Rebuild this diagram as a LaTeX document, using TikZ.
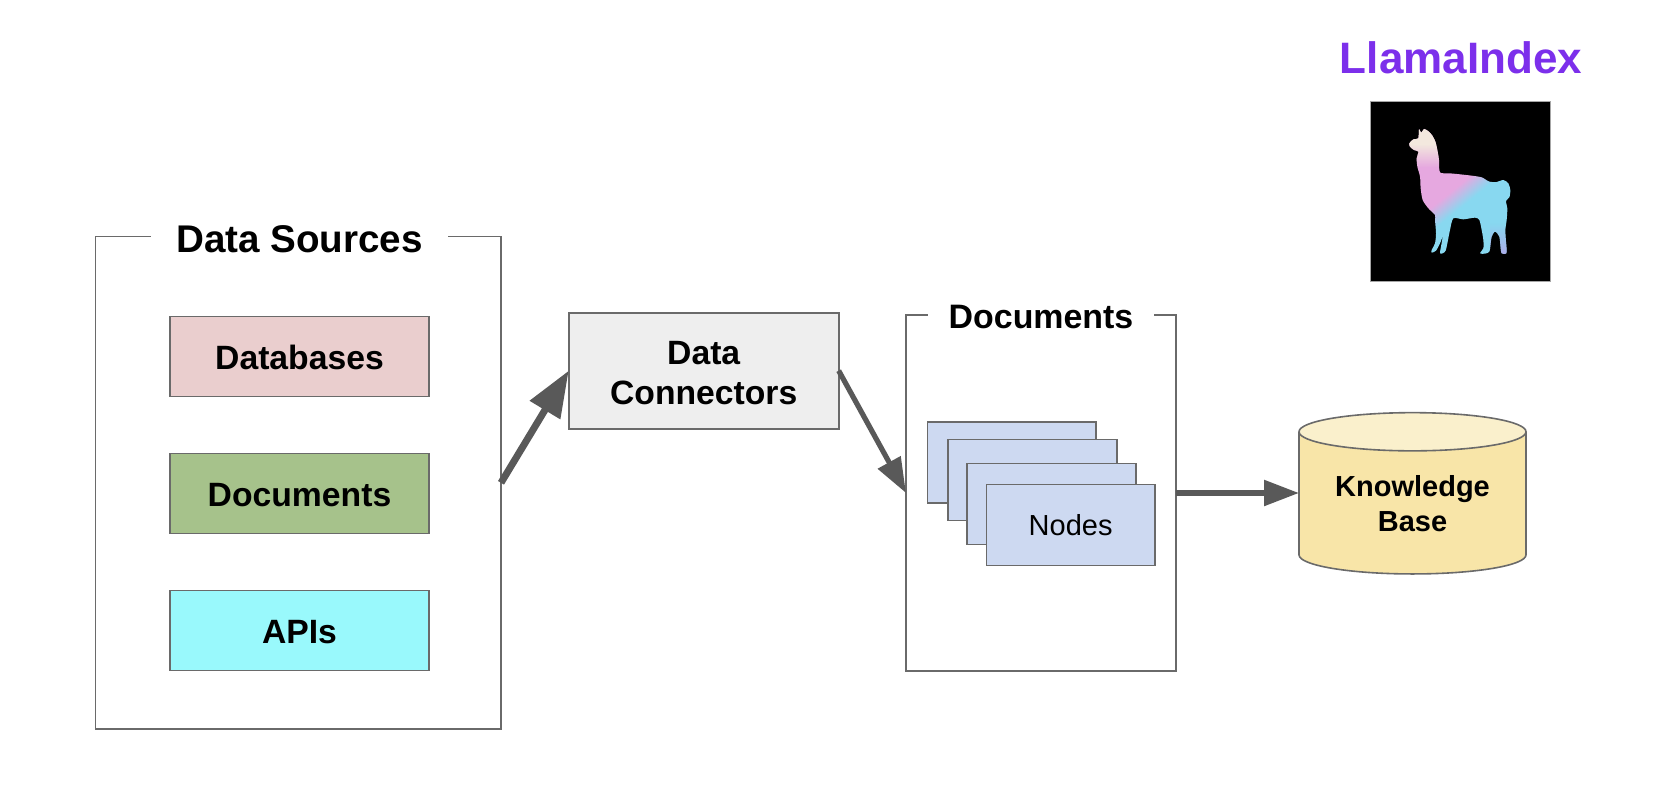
\documentclass[tikz,border=0pt]{standalone}
\usepackage{fontspec}
\setmainfont{Liberation Sans}
\usetikzlibrary{arrows.meta,shapes.geometric,fadings}
\definecolor{linegray}{HTML}{6A6A6A}
\definecolor{arrowgray}{HTML}{595959}
\definecolor{dbfill}{HTML}{EACECE}
\definecolor{docfill}{HTML}{A6C28B}
\definecolor{apifill}{HTML}{99F9FC}
\definecolor{connfill}{HTML}{EEEEEE}
\definecolor{nodefill}{HTML}{CDD9F1}
\definecolor{cylbody}{HTML}{F8E5A8}
\definecolor{cyltop}{HTML}{FAF0CC}
\definecolor{brandpurple}{HTML}{7C2FEB}
\definecolor{llcream}{HTML}{F3E8DE}
\definecolor{llpink}{HTML}{E6A8E0}
\definecolor{llblue}{HTML}{88D8F0}
\definecolor{llpurple}{HTML}{B8A0E8}
\pgfdeclarehorizontalshading{llamabody}{100bp}{color(0bp)=(llpink); color(48.5bp)=(llpink); color(54bp)=(llblue); color(100bp)=(llblue)}
\newcommand\dropstrut{\rule{0pt}{28pt}}
\newcommand\dropstrutone{\rule{0pt}{26.5pt}}
\tikzset{
  x=1pt,y=-1pt,
  basebox/.style={draw=linegray,line width=1.6pt,inner sep=0pt,outer sep=0pt,align=center},
  framebox/.style={basebox},
  itembox/.style={basebox,minimum width=259pt,minimum height=80pt,font=\fontsize{33.7}{40.3}\selectfont\bfseries},
  stackbox/.style={basebox,fill=nodefill,minimum width=168.6pt,minimum height=81pt,font=\fontsize{29}{35}\selectfont},
  frametitle/.style={fill=white,inner sep=0pt,outer sep=0pt,font=\fontsize{#1}{#1}\selectfont\bfseries},
  flow/.style={draw=arrowgray,-{Triangle[length=35pt,width=25pt]}},
}
\begin{document}
\begin{tikzpicture}
\useasboundingbox (0,0) rectangle (1664,800);
% Data sources frame
\node[framebox,minimum width=405.5pt,minimum height=492.4pt] (sources) at (298.25,482.8) {};
\node[frametitle=38.6,minimum width=297pt] (sourcestitle) at (299.5,239.5) {Data Sources};
\node[itembox,fill=dbfill] (databases) at (299.5,356.5) {\dropstrutone Databases};
\node[itembox,fill=docfill] (documents) at (299.5,493.5) {\dropstrutone Documents};
\node[itembox,fill=apifill] (apis) at (299.5,630.5) {\dropstrutone APIs};
% Data connectors
\node[basebox,fill=connfill,minimum width=270pt,minimum height=116pt,font=\fontsize{33.7}{40.3}\selectfont\bfseries] (connectors) at (703.7,370.7) {\dropstrut Data\\Connectors};
% Documents frame
\node[framebox,minimum width=270pt,minimum height=356pt] (docframe) at (1041,493) {};
\node[frametitle=33.9,minimum width=226pt] (docframetitle) at (1041,316.5) {Documents};
\node[stackbox] (nodeA) at (1011.6,462.2) {};
\node[stackbox] (nodeB) at (1032.5,479.8) {};
\node[stackbox] (nodeC) at (1051.5,503.8) {};
\node[stackbox] (nodeD) at (1070.6,524.8) {Nodes};
% Cylinder
\node[shape=cylinder,shape border rotate=90,aspect=0.247,anchor=shape center,draw=linegray,line width=1.6pt,inner sep=0pt,outer sep=0pt,
  cylinder uses custom fill,cylinder body fill=cylbody,cylinder end fill=cyltop,
  minimum width=227pt,minimum height=161.3pt,align=center,
  font=\fontsize{29}{35}\selectfont\bfseries] (kb) at (1412.5,493.3) {Knowledge\\Base};
% Arrows
\draw[flow,line width=7pt,-{Triangle[length=46pt,width=34pt]}] (sources.east) -- (connectors.west);
\draw[flow,line width=5.2pt] (connectors.east) -- (docframe.west);
\draw[flow,line width=5.5pt] (docframe.east) -- (docframe.east -| kb.west);
% Brand
\node[inner sep=0pt,outer sep=0pt,anchor=base,text=brandpurple,font=\fontsize{44}{44}\selectfont\bfseries] (brand) at (1461,73.5) {LlamaIndex};
\node[draw=linegray!60,line width=.8pt,fill=black,minimum width=180pt,minimum height=180pt,inner sep=0pt,outer sep=0pt] (logo) at (1460,191.5) {};
\begin{scope}[shift={(1400,120)},x=0.3333pt,y=-0.3333pt]
  \clip plot[smooth cycle,tension=.45] coordinates {
    (57,28) (64,38) (72,27) (85,34) (97,47) (106,65) (112,90) (117,120) (120,157)
    (150,160) (180,163) (215,167) (245,172) (268,185) (290,186) (310,180) (325,190)
    (331,210) (328,232) (318,243) (322,265) (320,300) (316,330) (318,365) (320,390)
    (318,401) (305,400) (302,385) (298,350) (285,335) (275,350) (272,370) (268,395)
    (255,401) (240,400) (250,385) (250,360) (245,330) (238,300) (225,293) (190,298)
    (160,295) (150,330) (143,365) (137,392) (128,400) (120,400) (122,385) (128,350)
    (120,370) (108,392) (95,398) (95,390) (105,370) (108,340) (105,300) (105,285)
    (85,265) (68,240) (62,205) (60,170) (52,140) (50,115) (55,95) (42,90) (30,80)
    (28,70) (40,58) (55,55)};
  \shade[shading=llamabody,shading angle=309] (-60,-60) rectangle (380,514);
  \fill[llcream] (0,-30) rectangle (200,73);
  \fill[llcream,path fading=south] (0,72.5) rectangle (200,142.5);
  \fill[llpurple,path fading=north] (270,310) rectangle (340,430);
\end{scope}
\end{tikzpicture}
\end{document}
